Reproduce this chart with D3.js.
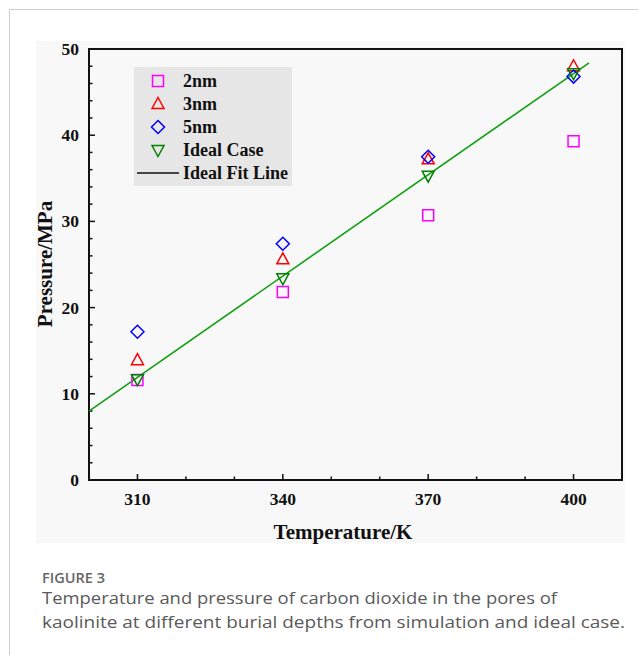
<!DOCTYPE html>
<html>
<head>
<meta charset="utf-8">
<script src="https://cdn.jsdelivr.net/npm/d3@7"></script>
<style>
  body { margin: 0; background: #fff; }
  .tick-label { font-family: "Liberation Serif", serif; font-weight: bold; font-size: 17.5px; fill: #111; }
  .axis-title { font-family: "Liberation Serif", serif; font-weight: bold; font-size: 21px; fill: #111; }
  .legend-label { font-family: "Liberation Serif", serif; font-weight: bold; font-size: 18px; fill: #111; }
</style>
</head>
<body>
<div id="wrapper"></div>
<script>
// data
const temps = [310, 340, 370, 400]
const p2nm = [11.6, 21.8, 30.7, 39.3]
const p3nm = [13.9, 25.6, 37.2, 48.0]
const p5nm = [17.2, 27.4, 37.5, 46.8]
const pIdeal = [11.7, 23.4, 35.3, 47.2]
const fitLine = [[300, 8.0], [403.2, 48.4]]
const xTicks = [310, 340, 370, 400]
const yTicks = [0, 10, 20, 30, 40, 50]
const seriesNames = ["2nm", "3nm", "5nm", "Ideal Case"]
const captionHead = "FIGURE 3"
const captionLines = [
  "Temperature and pressure of carbon dioxide in the pores of",
  "kaolinite at different burial depths from simulation and ideal case."
]

const width = 638
const height = 655
const dims = { left: 89, right: 622, top: 49, bottom: 480 }

const svg = d3.select("#wrapper").append("svg")
  .attr("width", width)
  .attr("height", height)

// outer figure border (top + left)
svg.append("path")
  .attr("d", `M${width},9.5 H9.5 V${height}`)
  .attr("fill", "none")
  .attr("stroke", "#d0d0d0")
  .attr("stroke-width", 1)

// image panel
svg.append("rect")
  .attr("x", 36).attr("y", 41)
  .attr("width", 589).attr("height", 502)
  .attr("fill", "#f8f8f8")

const x = d3.scaleLinear().domain([300, 410]).range([dims.left, dims.right])
const y = d3.scaleLinear().domain([0, 50]).range([dims.bottom, dims.top])

// minor + major ticks, pointing inward
const axisG = svg.append("g")
axisG.selectAll(".ymin").data(d3.range(0, 51, 2).filter(d => d % 10 !== 0))
  .join("line")
  .attr("x1", dims.left).attr("x2", dims.left + 3.5)
  .attr("y1", d => y(d)).attr("y2", d => y(d))
  .attr("stroke", "#111").attr("stroke-width", 1.5)
axisG.selectAll(".ymaj").data(yTicks)
  .join("line")
  .attr("x1", dims.left).attr("x2", dims.left + 6)
  .attr("y1", d => y(d)).attr("y2", d => y(d))
  .attr("stroke", "#111").attr("stroke-width", 1.5)
axisG.selectAll(".xmin").data([320, 330, 350, 360, 380, 390])
  .join("line")
  .attr("x1", d => x(d)).attr("x2", d => x(d))
  .attr("y1", dims.bottom).attr("y2", dims.bottom - 3.5)
  .attr("stroke", "#111").attr("stroke-width", 1.5)
axisG.selectAll(".xmaj").data(xTicks)
  .join("line")
  .attr("x1", d => x(d)).attr("x2", d => x(d))
  .attr("y1", dims.bottom).attr("y2", dims.bottom - 6)
  .attr("stroke", "#111").attr("stroke-width", 1.5)

// frame
svg.append("rect")
  .attr("x", dims.left).attr("y", dims.top)
  .attr("width", dims.right - dims.left).attr("height", dims.bottom - dims.top)
  .attr("fill", "none").attr("stroke", "#111").attr("stroke-width", 2)

// tick labels
svg.selectAll(".ylab").data(yTicks)
  .join("text")
  .attr("class", "tick-label")
  .attr("x", dims.left - 10)
  .attr("y", d => y(d) + 6)
  .attr("text-anchor", "end")
  .text(d => d)
svg.selectAll(".xlab").data(xTicks)
  .join("text")
  .attr("class", "tick-label")
  .attr("x", d => x(d))
  .attr("y", dims.bottom + 25)
  .attr("text-anchor", "middle")
  .text(d => d)

svg.append("text")
  .attr("class", "axis-title")
  .attr("transform", `translate(52, 264) rotate(-90)`)
  .attr("text-anchor", "middle")
  .text("Pressure/MPa")
svg.append("text")
  .attr("class", "axis-title")
  .attr("x", 343)
  .attr("y", 539)
  .attr("text-anchor", "middle")
  .text("Temperature/K")

// marker shapes
const markerPath = {
  "2nm": "M-5.5,-5.5H5.5V5.5H-5.5Z",
  "3nm": "M0,-6.5L6,4.5H-6Z",
  "5nm": "M0,-6.5L6.5,0L0,6.5L-6.5,0Z",
  "Ideal Case": "M0,6.5L6,-4.5H-6Z"
}
const colors = { "2nm": "#ff00ff", "3nm": "#ff0000", "5nm": "#0000ff", "Ideal Case": "#008000" }
const seriesValues = [p2nm, p3nm, p5nm, pIdeal]

// fit line
svg.append("path")
  .datum(fitLine)
  .attr("d", d3.line().x(d => x(d[0])).y(d => y(d[1])))
  .attr("fill", "none")
  .attr("stroke", "#12a012")
  .attr("stroke-width", 1.6)

// points
seriesNames.forEach((name, i) => {
  svg.append("g").selectAll("path")
    .data(temps.map((t, j) => [t, seriesValues[i][j]]))
    .join("path")
    .attr("transform", d => `translate(${x(d[0])},${y(d[1])})`)
    .attr("d", markerPath[name])
    .attr("fill", "none")
    .attr("stroke", colors[name])
    .attr("stroke-width", 1.5)
})

// legend
const legend = svg.append("g")
legend.append("rect")
  .attr("x", 134).attr("y", 67)
  .attr("width", 158).attr("height", 119)
  .attr("fill", "#e6e6e6")
seriesNames.forEach((name, i) => {
  const ly = 81 + i * 23
  legend.append("path")
    .attr("transform", `translate(158,${ly})`)
    .attr("d", markerPath[name])
    .attr("fill", "none")
    .attr("stroke", colors[name])
    .attr("stroke-width", 1.5)
  legend.append("text")
    .attr("class", "legend-label")
    .attr("x", 183).attr("y", ly + 6)
    .text(name)
})
legend.append("line")
  .attr("x1", 137).attr("x2", 179)
  .attr("y1", 173).attr("y2", 173)
  .attr("stroke", "#111").attr("stroke-width", 1.6)
legend.append("text")
  .attr("class", "legend-label")
  .attr("x", 183).attr("y", 179)
  .text("Ideal Fit Line")

// caption
svg.append("text")
  .attr("x", 42).attr("y", 583)
  .attr("font-family", "'Open Sans', sans-serif")
  .attr("font-weight", 600)
  .attr("font-size", 13.5)
  .attr("textLength", 63)
  .attr("lengthAdjust", "spacingAndGlyphs")
  .attr("fill", "#666")
  .text(captionHead)
const capWidths = [515, 583]
svg.selectAll(".cap").data(captionLines)
  .join("text")
  .attr("x", 42)
  .attr("y", (d, i) => 604 + i * 24)
  .attr("font-family", "'Open Sans', sans-serif")
  .attr("font-size", 17)
  .attr("textLength", (d, i) => capWidths[i])
  .attr("lengthAdjust", "spacingAndGlyphs")
  .attr("fill", "#5a5a5a")
  .text(d => d)
</script>
</body>
</html>
